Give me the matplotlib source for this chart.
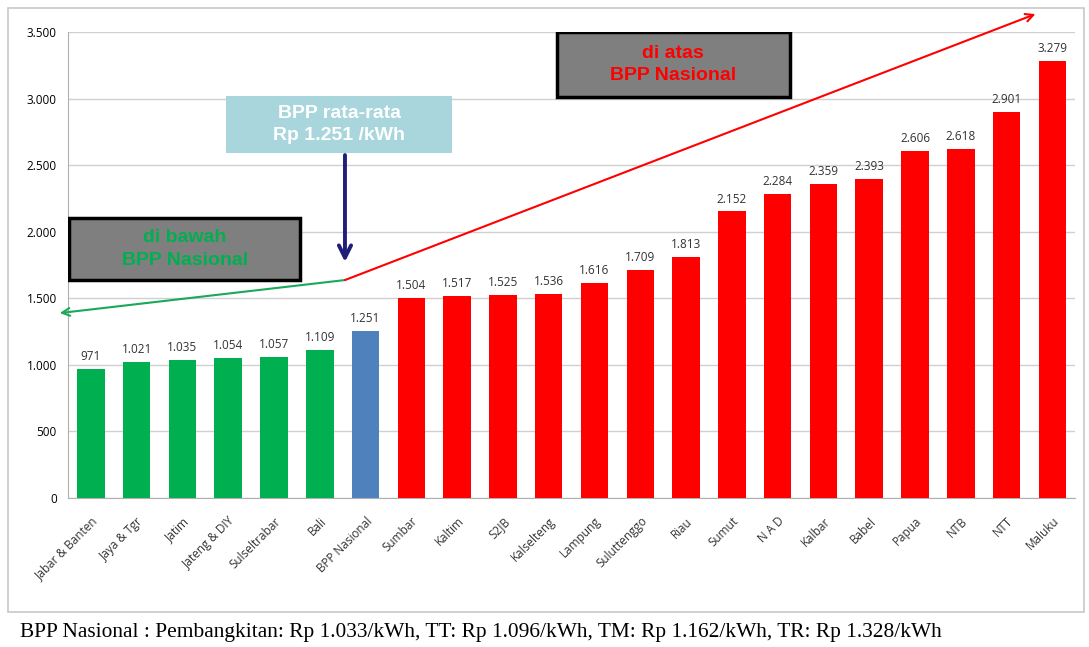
import matplotlib.pyplot as plt
from matplotlib.patches import Rectangle

regions = ["Jabar & Banten", "Jaya & Tgr", "Jatim", "Jateng & DIY", "Sulseltrabar", "Bali",
           "BPP Nasional", "Sumbar", "Kaltim", "S2JB", "Kalselteng", "Lampung", "Suluttenggo",
           "Riau", "Sumut", "N A D", "Kalbar", "Babel", "Papua", "NTB", "NTT", "Maluku"]
bpp = [971, 1021, 1035, 1054, 1057, 1109, 1251, 1504, 1517, 1525, 1536, 1616, 1709,
       1813, 2152, 2284, 2359, 2393, 2606, 2618, 2901, 3279]
national = 1251
yticks = [0, 500, 1000, 1500, 2000, 2500, 3000, 3500]

GREEN, BLUE, RED = "#00b050", "#4f81bd", "#ff0000"


def fmt(v):
    return f"{v:,}".replace(",", ".")


colors = [GREEN if v < national else BLUE if v == national else RED for v in bpp]

fig = plt.figure(figsize=(10.89, 6.47), dpi=100)
ax = fig.add_axes([0.0624, 0.2303, 0.925, 0.7202])

# outer frame around the chart area
fig.patches.append(Rectangle((8 / 1089, 1 - 612 / 647), 1076 / 1089, 604 / 647,
                             transform=fig.transFigure, fill=False, ec="#c8c8c8", lw=1.2))

x = list(range(len(bpp)))
ax.bar(x, bpp, width=0.6, color=colors, zorder=3)
for i, v in zip(x, bpp):
    ax.text(i, v + 45, fmt(v), ha="center", va="bottom", fontsize=8.5,
            family="Open Sans", color="#333333", zorder=4)

ax.set_xlim(-0.5, len(bpp) - 0.5)
ax.set_ylim(0, 3500)
ax.set_yticks(yticks)
ax.set_yticklabels([fmt(t) for t in yticks], fontsize=8.5, family="Open Sans")
ax.yaxis.grid(True, color="#d0d0d0", lw=1, zorder=0)
ax.set_xticks(x)
ax.set_xticklabels(regions, rotation=45, ha="right", rotation_mode="anchor",
                   fontsize=8.5, family="Open Sans", color="#333333")
ax.tick_params(axis="both", length=0, pad=8)
ax.tick_params(axis="x", pad=12)
for s in ["top", "right"]:
    ax.spines[s].set_visible(False)
for s in ["left", "bottom"]:
    ax.spines[s].set_color("#b0b0b0")

box_font = dict(ha="center", va="center", fontsize=14, fontweight="bold",
                family="Liberation Sans", zorder=6, linespacing=1.4)

# annotation boxes
ax.add_patch(Rectangle((-0.48, 1637), 5.05, 466, fc="#7f7f7f", ec="black", lw=2.5, zorder=5))
ax.text(2.05, 1870, "di bawah\nBPP Nasional", color=GREEN, **box_font)

ax.add_patch(Rectangle((2.95, 2591), 4.94, 428, fc="#a9d6dc", ec="none", zorder=5))
ax.text(5.42, 2805, "BPP rata-rata\nRp 1.251 /kWh", color="white", **box_font)

ax.add_patch(Rectangle((10.18, 3012), 5.09, 488, fc="#7f7f7f", ec="black", lw=2.5, zorder=5))
ax.text(12.72, 3256, "di atas\nBPP Nasional", color=RED, **box_font)

# arrows
ax.annotate("", xy=(5.55, 1773), xytext=(5.55, 2576),
            arrowprops=dict(arrowstyle="->", color="#1f1f7a", lw=2.8, mutation_scale=22,
                            shrinkA=0, shrinkB=0), zorder=6)
ax.annotate("", xy=(-0.68, 1389), xytext=(5.55, 1637), annotation_clip=False,
            arrowprops=dict(arrowstyle="->", color="#1aa85a", lw=1.5, mutation_scale=14,
                            shrinkA=0, shrinkB=0), zorder=6)
ax.annotate("", xy=(20.63, 3635), xytext=(5.55, 1637), annotation_clip=False,
            arrowprops=dict(arrowstyle="->", color=RED, lw=1.5, mutation_scale=14,
                            shrinkA=0, shrinkB=0), zorder=6)

fig.text(20 / 1089, 1 - 633 / 647,
         "BPP Nasional : Pembangkitan: Rp 1.033/kWh, TT: Rp 1.096/kWh, "
         "TM: Rp 1.162/kWh, TR: Rp 1.328/kWh",
         ha="left", va="center", fontsize=15.4, family="Liberation Serif")

fig.savefig("out.png", dpi=100)
